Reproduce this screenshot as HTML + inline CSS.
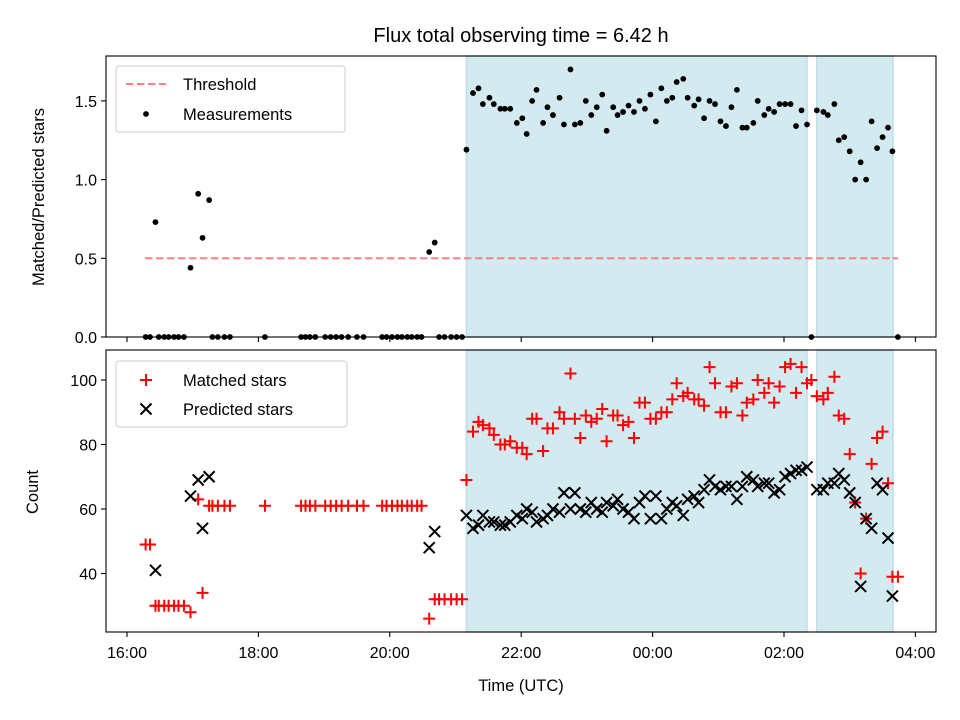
<!DOCTYPE html>
<html><head><meta charset="utf-8"><style>
body{margin:0;background:#fff;}
svg{display:block;font-family:"Liberation Sans","DejaVu Sans",sans-serif;}
</style></head><body>
<svg id="fig" width="960" height="720" viewBox="0 0 960 720"></svg>
<script>
// ---- data (minutes after 16:00 UTC) ----
const darkStart = [310, 630];
const darkEnd = [621, 699.5];
const ratioTimes = [17,21,26,29,34,38,43,47,52,58,65,69,75,78,83,89,94,126,159,163,167,172,181,186,191,196,202,210,216,233,237,242,247,251,256,260,265,269,276,281,285,290,296,301,306,
310,316,321,325,331,335,341,345,350,356,361,365,370,374,380,384,389,395,399,405,409,414,419,424,429,434,438,444,448,453,458,463,468,473,478,483,488,493,498,502,508,512,518,522,527,532,537,542,547,552,557,562,566,572,576,582,586,591,596,601,606,611,616,621,625,
630,636,640,646,650,655,660,665,670,675,680,685,690,695,699,704];
const ratioValues = [0,0,0.73,0,0,0,0,0,0,0.44,0.91,0.63,0.87,0,0,0,0,0,0,0,0,0,0,0,0,0,0,0,0,0,0,0,0,0,0,0,0,0,0.54,0.60,0,0,0,0,0,
1.19,1.55,1.58,1.48,1.52,1.48,1.45,1.45,1.45,1.36,1.39,1.29,1.50,1.57,1.36,1.46,1.41,1.52,1.35,1.70,1.35,1.36,1.50,1.41,1.46,1.54,1.31,1.46,1.41,1.43,1.47,1.43,1.50,1.45,1.54,1.37,1.58,1.50,1.52,1.62,1.64,1.52,1.47,1.51,1.39,1.50,1.48,1.37,1.34,1.46,1.57,1.33,1.33,1.36,1.50,1.41,1.45,1.43,1.48,1.48,1.48,1.34,1.44,1.35,0,
1.44,1.43,1.41,1.48,1.25,1.27,1.18,1.00,1.11,1.00,1.37,1.20,1.27,1.33,1.18,0];
const matchedTimes = [17,21,26,29,34,38,43,47,52,58,65,69,75,78,83,89,94,126,159,163,167,172,181,186,191,196,202,210,216,233,237,242,247,251,256,260,265,269,276,281,285,290,296,301,306,
310,316,321,325,331,335,341,345,350,356,361,365,370,374,380,384,389,395,399,405,409,414,419,424,429,434,438,444,448,453,458,463,468,473,478,483,488,493,498,502,508,512,518,522,527,532,537,542,547,552,557,562,566,572,576,582,586,591,596,601,606,611,616,621,625,
630,636,640,646,650,655,660,665,670,675,680,685,690,695,699,704];
const matchedValues = [49,49,30,30,30,30,30,30,30,28,63,34,61,61,61,61,61,61,61,61,61,61,61,61,61,61,61,61,61,61,61,61,61,61,61,61,61,61,26,32,32,32,32,32,32,
69,84,87,86,85,83,80,80,81,79,79,77,88,88,78,85,85,90,88,102,88,82,89,87,88,91,81,89,89,86,87,82,93,93,88,88,90,90,94,99,95,96,94,94,92,104,99,90,90,98,99,89,93,94,100,96,99,93,98,104,105,96,104,99,100,
95,94,96,101,89,88,77,62,40,57,74,82,84,68,39,39];
const predTimes = [26,58,65,69,75,276,281,
310,316,321,325,331,335,341,345,350,356,361,365,370,374,380,384,389,395,399,405,409,414,419,424,429,434,438,444,448,453,458,463,468,473,478,483,488,493,498,502,508,512,518,522,527,532,537,542,547,552,557,562,566,572,576,582,586,591,596,601,606,611,616,621,
630,636,640,646,650,655,660,665,670,675,680,685,690,695,699];
const predValues = [41,64,69,54,70,48,53,
58,54,55,58,56,56,55,55,56,58,57,60,59,56,57,58,60,59,65,60,65,60,59,62,60,59,62,61,63,60,59,57,62,64,57,64,57,60,62,61,58,63,64,62,66,69,67,66,67,67,63,67,70,69,67,68,68,65,66,70,71,72,72,73,
66,66,68,68,71,69,65,62,36,57,54,68,66,51,33];
const xTickValues = [0,120,240,360,480,600,720];
const xTickLabels = ["16:00","18:00","20:00","22:00","00:00","02:00","04:00"];
const topTicks = [0,0.5,1.0,1.5];
const topTickLabels = ["0.0","0.5","1.0","1.5"];
const botTicks = [40,60,80,100];
const threshold = 0.5;
const thrStart = 16.4, thrEnd = 704;

// ---- axes ----
const L=106,R=936, T1=56,B1=337, T2=350,B2=632;
const xs = m => 127 + m*131.4/120;
const y1 = v => 337 - v*157.4;
const y2 = v => 380 + (100 - v)*3.225;
const NS="http://www.w3.org/2000/svg";
const svg=document.getElementById('fig');
function mk(tag, attrs, parent){const e=document.createElementNS(NS,tag);for(const k in attrs)e.setAttribute(k,attrs[k]);(parent||svg).appendChild(e);return e;}

function axesGroup(name){const g=mk('g',{});return g;}
const gTop=axesGroup('top-axes'), gBot=axesGroup('bottom-axes');

for(let i=0;i<darkStart.length;i++){
  for(const [g,T,B] of [[gTop,T1,B1],[gBot,T2,B2]]){
    const r=mk('rect',{x:xs(darkStart[i]),y:T,width:xs(darkEnd[i])-xs(darkStart[i]),height:B-T,fill:'#d4eaf1',stroke:'#bcdde8','stroke-width':1.5},g);
    
    
  }
}
const th=mk('line',{x1:xs(thrStart),x2:xs(thrEnd),y1:y1(threshold),y2:y1(threshold),stroke:'#ff8080','stroke-width':2,'stroke-dasharray':'7.5,3.5'},gTop);


for(let i=0;i<ratioTimes.length;i++){
  const c=mk('circle',{cx:xs(ratioTimes[i]),cy:y1(ratioValues[i]),r:2.9,fill:'#000'},gTop);
  
  
}
for(let i=0;i<matchedTimes.length;i++){
  const x=xs(matchedTimes[i]),y=y2(matchedValues[i]);
  const p=mk('path',{d:`M${x-6},${y}H${x+6}M${x},${y-6}V${y+6}`,stroke:'#ff0000','stroke-width':2,fill:'none'},gBot);
  
  
}
for(let i=0;i<predTimes.length;i++){
  const x=xs(predTimes[i]),y=y2(predValues[i]);
  const p=mk('path',{d:`M${x-5.5},${y-5.5}L${x+5.5},${y+5.5}M${x-5.5},${y+5.5}L${x+5.5},${y-5.5}`,stroke:'#000','stroke-width':2,fill:'none'},gBot);
  
  
}
for(const [g,T,B] of [[gTop,T1,B1],[gBot,T2,B2]]){
  const f=mk('rect',{x:L,y:T,width:R-L,height:B-T,fill:'none',stroke:'#000','stroke-width':1.1},g);
  
  
  for(let i=0;i<xTickValues.length;i++){
    const x=xs(xTickValues[i]); if(x<L||x>R)continue;
    mk('line',{x1:x,x2:x,y1:B,y2:B+5,stroke:'#000','stroke-width':1.1},g);
  }
}
for(let i=0;i<xTickValues.length;i++){
  const x=xs(xTickValues[i]); if(x<L||x>R)continue;
  const t=mk('text',{x:x,y:B2+26,'font-size':16,'text-anchor':'middle',fill:'#000'},gBot);
  t.textContent=xTickLabels[i];
  
  
}
for(let i=0;i<topTicks.length;i++){
  const y=y1(topTicks[i]);
  mk('line',{x1:L-5,x2:L,y1:y,y2:y,stroke:'#000','stroke-width':1.1},gTop);
  const t=mk('text',{x:L-9,y:y+6,'font-size':16,'text-anchor':'end'},gTop);
  t.textContent=topTickLabels[i];
  
  
}
for(let i=0;i<botTicks.length;i++){
  const y=y2(botTicks[i]);
  mk('line',{x1:L-5,x2:L,y1:y,y2:y,stroke:'#000','stroke-width':1.1},gBot);
  const t=mk('text',{x:L-9,y:y+6,'font-size':16,'text-anchor':'end'},gBot);
  t.textContent=String(botTicks[i]);
  
  
}
</script>
<svg width="960" height="720" style="position:absolute;left:0;top:0" font-family="Liberation Sans, DejaVu Sans, sans-serif">
  <text x="521" y="42" font-size="20" text-anchor="middle">Flux total observing time = 6.42 h</text>
  <text transform="translate(44,197) rotate(-90)" font-size="16.5" text-anchor="middle">Matched/Predicted stars</text>
  <text transform="translate(38,492) rotate(-90)" font-size="16.5" text-anchor="middle">Count</text>
  <text x="521" y="691" font-size="16.5" text-anchor="middle">Time (UTC)</text>
  <g>
    <rect x="116" y="66" width="229" height="66" rx="3" fill="#fff" fill-opacity="0.85" stroke="#ccc"/>
    <line x1="126" x2="166" y1="84" y2="84" stroke="#ff8080" stroke-width="2" stroke-dasharray="7.5,3.5"/>
    <text x="183" y="90" font-size="16.5">Threshold</text>
    <circle cx="146" cy="114" r="2.9" fill="#000"/>
    <text x="183" y="120" font-size="16.5">Measurements</text>
  </g>
  <g>
    <rect x="116" y="361" width="231" height="66" rx="3" fill="#fff" fill-opacity="0.85" stroke="#ccc"/>
    <path d="M140,380H152M146,374V386" stroke="#f00" stroke-width="2"/>
    <text x="183" y="386" font-size="16.5">Matched stars</text>
    <path d="M140.5,403.5L151.5,414.5M140.5,414.5L151.5,403.5" stroke="#000" stroke-width="2"/>
    <text x="183" y="415" font-size="16.5">Predicted stars</text>
  </g>
</svg>
</body></html>
